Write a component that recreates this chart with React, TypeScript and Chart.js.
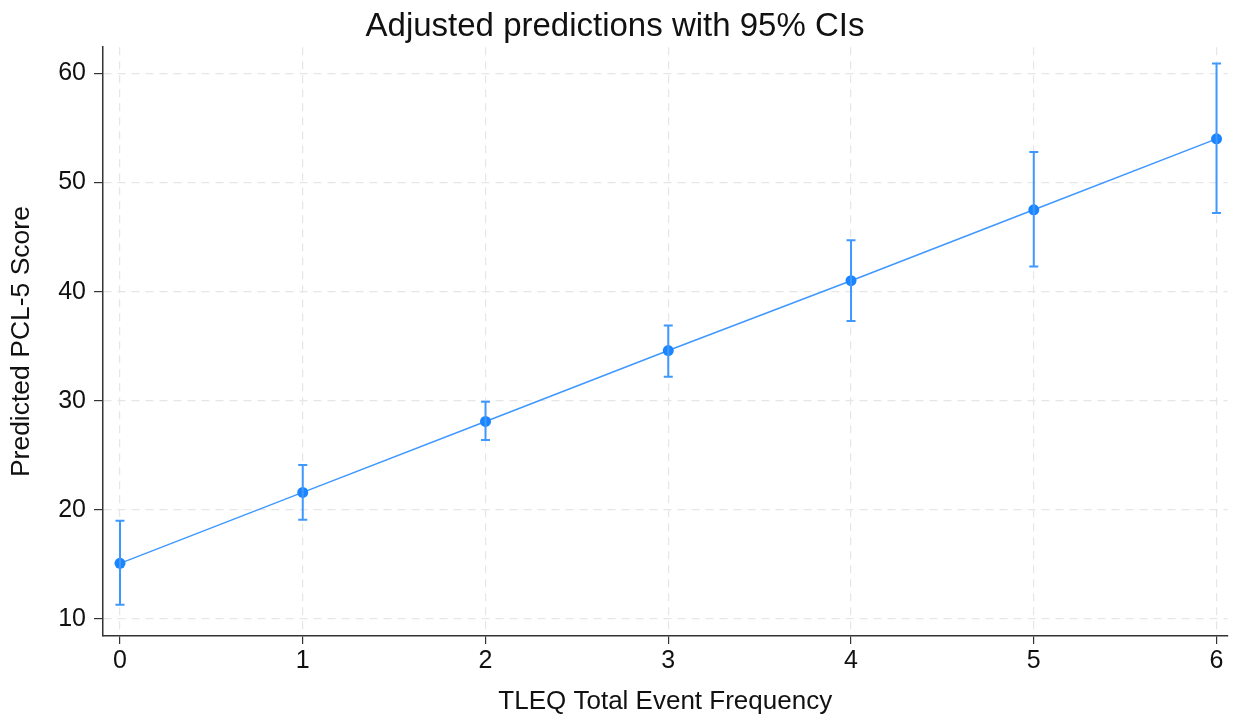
import React, { useEffect, useRef } from "react";
import { Chart, registerables } from "chart.js";

Chart.register(...registerables);

const xValues = [0, 1, 2, 3, 4, 5, 6];
const predicted = [15.1, 21.6, 28.1, 34.6, 41.0, 47.5, 54.0];
const lowerCI = [11.3, 19.1, 26.4, 32.2, 37.3, 42.3, 47.2];
const upperCI = [19.0, 24.1, 29.9, 36.9, 44.7, 52.8, 60.9];
const xTicks = [0, 1, 2, 3, 4, 5, 6];
const yTicks = [10, 20, 30, 40, 50, 60];

const BLUE = "#1a85ff";
const BAR_BLUE = "#3f98ff";

const errorBarPlugin = {
  id: "errorBars",
  afterDatasetsDraw(chart: any) {
    const { ctx, scales } = chart;
    const xs = scales.x;
    const ys = scales.y;
    ctx.save();
    ctx.strokeStyle = BAR_BLUE;
    ctx.lineWidth = 2;
    xValues.forEach((xv, i) => {
      const px = xs.getPixelForValue(xv);
      const pLo = ys.getPixelForValue(lowerCI[i]);
      const pHi = ys.getPixelForValue(upperCI[i]);
      ctx.beginPath();
      ctx.moveTo(px, pLo);
      ctx.lineTo(px, pHi);
      ctx.moveTo(px - 4.5, pLo);
      ctx.lineTo(px + 4.5, pLo);
      ctx.moveTo(px - 4.5, pHi);
      ctx.lineTo(px + 4.5, pHi);
      ctx.stroke();
    });
    ctx.restore();
  },
};

export default function App() {
  const ref = useRef<HTMLCanvasElement | null>(null);
  useEffect(() => {
    document.body.style.margin = "0";
    const canvas = ref.current!;
    const chart = new Chart(canvas, {
      type: "line",
      data: {
        datasets: [
          {
            data: xValues.map((x, i) => ({ x, y: predicted[i] })),
            borderColor: BAR_BLUE,
            borderWidth: 1.5,
            pointBackgroundColor: BLUE,
            pointBorderColor: BLUE,
            pointRadius: 5.5,
            pointBorderWidth: 0,
            tension: 0,
          },
        ],
      },
      options: {
        animation: false,
        responsive: false,
        devicePixelRatio: 1,
        layout: { padding: { left: 0, right: 3, top: 0, bottom: 0 } },
        plugins: {
          legend: { display: false },
          tooltip: { enabled: false },
          title: {
            display: true,
            text: "Adjusted predictions with 95% CIs",
            color: "#111",
            font: { family: "Liberation Sans", size: 33, weight: "normal" },
            padding: { top: 7, bottom: 0.6 },
          },
        },
        scales: {
          x: {
            type: "linear",
            min: -0.093,
            max: 6.06,
            afterBuildTicks: (s: any) => {
              s.ticks = xTicks.map((v) => ({ value: v }));
            },
            afterFit: (s: any) => {
              s.height = 85;
            },
            ticks: {
              color: "#111",
              font: { family: "Liberation Sans", size: 25 },
              padding: 2,
              maxRotation: 0,
            },
            grid: {
              color: "#e6e6e6",
              lineWidth: 1.2,
              tickColor: "#333",
              tickLength: 8,
              tickBorderDash: [],
              tickWidth: 1.2,
            } as any,
            border: { display: true, color: "#333", width: 1.5, dash: [8, 6] },
            title: {
              display: true,
              text: "TLEQ Total Event Frequency",
              color: "#111",
              font: { family: "Liberation Sans", size: 26 },
              padding: { top: 4 },
            },
          },
          y: {
            type: "linear",
            min: 8.44,
            max: 62.4,
            afterBuildTicks: (s: any) => {
              s.ticks = yTicks.map((v) => ({ value: v }));
            },
            afterFit: (s: any) => {
              s.width = 103;
            },
            ticks: {
              color: "#111",
              font: { family: "Liberation Sans", size: 25 },
              padding: 8,
            },
            grid: {
              color: "#e6e6e6",
              lineWidth: 1.2,
              tickColor: "#333",
              tickLength: 9,
              tickBorderDash: [],
              tickWidth: 1.2,
            } as any,
            border: { display: true, color: "#333", width: 1.5, dash: [8, 6] },
            title: {
              display: true,
              text: "Predicted PCL-5 Score",
              color: "#111",
              font: { family: "Liberation Sans", size: 26.5 },
              padding: { top: 6, bottom: 0 },
            },
          },
        },
      },
      plugins: [errorBarPlugin],
    });
    return () => chart.destroy();
  }, []);
  return (
    <div style={{ width: 1233, height: 721 }}>
      <canvas ref={ref} width={1233} height={721} style={{ display: "block" }} />
    </div>
  );
}
